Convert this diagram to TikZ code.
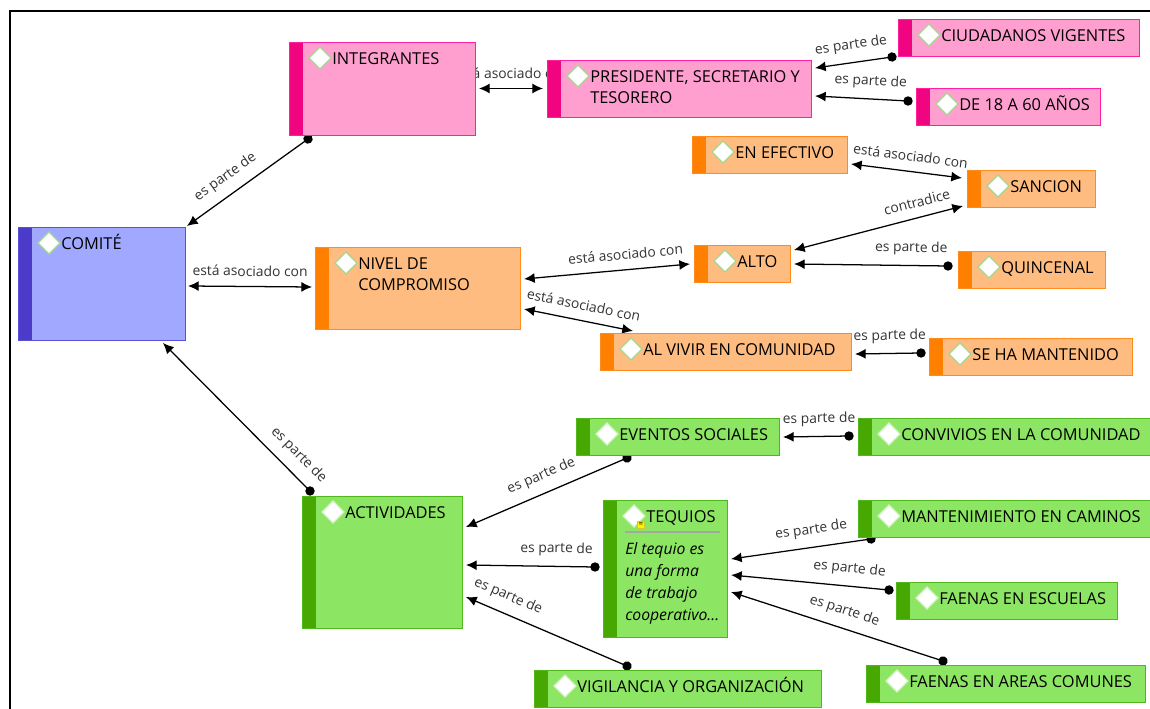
\documentclass[tikz,border=0pt]{standalone}
\usepackage{fontspec}
\setmainfont{Open Sans}
\usetikzlibrary{positioning}
\usetikzlibrary{arrows.meta}
\usetikzlibrary{backgrounds}

\definecolor{pinkfill}{HTML}{FF9FCF}
\definecolor{pinkline}{HTML}{FF1F9F}
\definecolor{pinkbar}{HTML}{F0047F}
\definecolor{orangefill}{HTML}{FFBC80}
\definecolor{orangeline}{HTML}{FF8B1F}
\definecolor{orangebar}{HTML}{FF7F00}
\definecolor{greenfill}{HTML}{8CE563}
\definecolor{greenline}{HTML}{50B81C}
\definecolor{greenbar}{HTML}{46A800}
\definecolor{bluefill}{HTML}{A0A8FF}
\definecolor{blueline}{HTML}{5A50D8}
\definecolor{bluebar}{HTML}{4A3BC8}
\definecolor{diamondline}{HTML}{A5D68F}
\definecolor{diamondpale}{HTML}{D4F2C4}
\definecolor{labelgrey}{HTML}{333333}

\tikzset{
  topic/.style n args={4}{draw=#2, line width=.7pt, fill=#1, rectangle, outer sep=0pt, inner sep=0pt,
    path picture={
      \fill[#3] (path picture bounding box.north west) rectangle ([xshift=10.5pt]path picture bounding box.south west);
      \draw[#4, line width=1pt, fill=white] ([shift={(31,-5)}]path picture bounding box.north west) -- ++(11,-11) -- ++(-11,-11) -- ++(-11,11) -- cycle;
    }},
  pinktopic/.style={topic={pinkfill}{pinkline}{pinkbar}{diamondline}},
  orangetopic/.style={topic={orangefill}{orangeline}{orangebar}{diamondline}},
  greentopic/.style={topic={greenfill}{greenline}{greenbar}{diamondpale}},
  bluetopic/.style={topic={bluefill}{blueline}{bluebar}{diamondline}},
  short/.style={minimum height=27.75pt},
  title/.style={anchor=north west, xshift=32.25pt, yshift=-5.1pt, inner sep=0pt, align=left, text=black,
    font=\fontsize{12.3pt}{15.75pt}\selectfont, execute at begin node={\rule{0pt}{11.6pt}}},
  twolines/.style={title, yshift=-2.6pt},
  partof/.style={{Circle[length=7pt]}-{Latex[length=8pt,width=7.5pt]}, shorten <=-3.5pt, line width=.95pt},
  assoc/.style={{Latex[length=8pt,width=7.5pt]}-{Latex[length=8pt,width=7.5pt]}, line width=.95pt},
  rel/.style={sloped, above=4.6pt, inner sep=2.6pt, text=labelgrey, font=\fontsize{10.4pt}{11pt}\selectfont},
  frameline/.style={line width=1.9pt, black}
}

\begin{document}
\begin{tikzpicture}[x=.75pt,y=.75pt]
\useasboundingbox (0,0) rectangle (1150,-709);
\clip (0,0) rectangle (1150,-709);

\node[bluetopic, minimum width=125.25pt, minimum height=84.75pt, anchor=north west, label={[title]north west:COMITÉ}](comite) at (18,-227){};
\node[pinktopic, minimum width=139.5pt, minimum height=69.75pt, below right=-138.75pt and 203.25pt of comite.north west, label={[title]north west:INTEGRANTES}](integrantes){};
\node[orangetopic, minimum width=153.75pt, minimum height=61.5pt, below right=15pt and 222.75pt of comite.north west, label={[twolines]north west:NIVEL DE\\COMPROMISO}](nivel){};
\node[greentopic, minimum width=120pt, minimum height=99pt, below right=201.75pt and 213pt of comite.north west, label={[title]north west:ACTIVIDADES}](actividades){};

\node[pinktopic, minimum width=198pt, minimum height=42.75pt, below right=13.5pt and 193.5pt of integrantes.north west, label={[twolines]north west:{PRESIDENTE, SECRETARIO Y\\TESORERO}}](presidente){};
\node[pinktopic, short, minimum width=180.75pt, below right=-30.75pt and 263.25pt of presidente.north west, label={[title]north west:CIUDADANOS VIGENTES}](ciudadanos){};
\node[pinktopic, short, minimum width=138pt, below right=21pt and 276.75pt of presidente.north west, label={[title]north west:DE 18 A 60 AÑOS}](edad){};

\node[orangetopic, short, minimum width=72pt, below right=-1.5pt and 284.25pt of nivel.north west, label={[title]north west:ALTO}](alto){};
\node[orangetopic, short, minimum width=188.25pt, below right=64.5pt and 213.75pt of nivel.north west, label={[title]north west:AL VIVIR EN COMUNIDAD}](vivir){};
\node[orangetopic, short, minimum width=152.25pt, below right=3.75pt and 246.75pt of vivir.north west, label={[title]north west:SE HA MANTENIDO}](mantenido){};
\node[orangetopic, short, minimum width=96pt, below right=-56.25pt and 204.75pt of alto.north west, label={[title]north west:SANCION}](sancion){};
\node[orangetopic, short, minimum width=116.25pt, below right=-25.5pt and -206.25pt of sancion.north west, label={[title]north west:EN EFECTIVO}](efectivo){};
\node[orangetopic, short, minimum width=110.25pt, below right=4.5pt and 198pt of alto.north west, label={[title]north west:QUINCENAL}](quincenal){};

\node[greentopic, short, minimum width=152.25pt, below right=-58.5pt and 205.5pt of actividades.north west, label={[title]north west:EVENTOS SOCIALES}](eventos){};
\node[greentopic, minimum width=93pt, minimum height=102.75pt, below right=3pt and 225.75pt of actividades.north west, label={[title]north west:TEQUIOS}](tequios){};
\node[greentopic, short, minimum width=215.25pt, below right=130.5pt and 174pt of actividades.north west, label={[title]north west:VIGILANCIA Y ORGANIZACIÓN}](vigilancia){};
\node[greentopic, short, minimum width=222pt, below right=0pt and 211.5pt of eventos.north west, label={[title]north west:CONVIVIOS EN LA COMUNIDAD}](convivios){};
\node[greentopic, short, minimum width=222pt, below right=0pt and 191.25pt of tequios.north west, label={[title]north west:MANTENIMIENTO EN CAMINOS}](caminos){};
\node[greentopic, short, minimum width=165.75pt, below right=61.5pt and 219.75pt of tequios.north west, label={[title]north west:FAENAS EN ESCUELAS}](escuelas){};
\node[greentopic, short, minimum width=209.25pt, below right=123.75pt and 197.25pt of tequios.north west, label={[title]north west:FAENAS EN AREAS COMUNES}](areas){};

\node[below right=31.6pt and 16.5pt of tequios.north west, inner sep=0pt, align=left, font=\fontsize{11.8pt}{16.5pt}\selectfont\itshape](tequiosnote){El tequio es\\una forma\\de trabajo\\cooperativo...};
\node[below right=15.75pt and 25.5pt of tequios.north west, draw=yellow!80!black, fill=yellow, minimum size=5.5pt, inner sep=0pt, font=\fontsize{6pt}{6pt}\selectfont](tequiosicon){=};
\draw[black!35, line width=.8pt] ([shift={(22,-32)}]tequios.north west) -- ([shift={(117,-32)}]tequios.north west);

\begin{scope}[on background layer]
\coordinate (framebottom) at (10,-709);
\coordinate (frameright) at (1150,-11);
\draw[frameline] (framebottom) |- (frameright);

\draw[partof] ([shift={(19,-4)}]integrantes.south west) -- node[rel, pos=.6]{es parte de} ([shift={(2,1)}]comite.north east);
\draw[assoc] ([shift={(3,-2.5)}]comite.east) -- node[rel]{está asociado con} ([shift={(-3,1)}]nivel.west);
\draw[assoc] ([shift={(4,0)}]integrantes.east) -- node[rel]{está asociado con} ([shift={(-4,0)}]presidente.west);
\draw[partof] ([shift={(-6,-1)}]ciudadanos.south west) -- node[rel]{es parte de} ([shift={(4,-8)}]presidente.north east);
\draw[partof] ([shift={(-8,5.5)}]edad.west) -- node[rel, pos=.41]{es parte de} ([shift={(4,-7.5)}]presidente.east);
\draw[assoc] ([shift={(4,-9.5)}]efectivo.east) -- node[rel, pos=.52]{está asociado con} ([shift={(-5,10.5)}]sancion.west);
\draw[assoc] ([shift={(4,-5)}]alto.north east) -- node[rel, pos=.75]{contradice} ([shift={(-4,1)}]sancion.south west);
\draw[partof] ([shift={(-10,3.5)}]quincenal.west) -- node[rel, pos=.24]{es parte de} ([shift={(4,-.5)}]alto.east);
\draw[assoc] ([shift={(4,9)}]nivel.east) -- node[rel, pos=.62]{está asociado con} ([shift={(-4,-.5)}]alto.west);
\draw[assoc] ([shift={(4,20)}]nivel.south east) -- node[rel, pos=.52]{está asociado con} ([shift={(33,2)}]vivir.north west);
\draw[partof] ([shift={(-8,3.5)}]mantenido.west) -- node[rel, pos=.47]{es parte de} ([shift={(4,-2.5)}]vivir.east);
\draw[partof] ([shift={(8,5)}]actividades.north west) -- node[rel, pos=.16]{es parte de} ([shift={(-22,-3)}]comite.south east);
\draw[partof] ([shift={(51,-3)}]eventos.south west) -- node[rel, pos=.49]{es parte de} ([shift={(4,-31)}]actividades.north east);
\draw[partof] ([shift={(-8,1.5)}]tequios.west) -- node[rel, pos=.3]{es parte de} ([shift={(4,-3)}]actividades.east);
\draw[partof] ([shift={(93,4)}]vigilancia.north west) -- node[rel, pos=.78]{es parte de} ([shift={(4,31)}]actividades.south east);
\draw[partof] ([shift={(-9,.5)}]convivios.west) -- node[rel, pos=.45]{es parte de} ([shift={(4,-.5)}]eventos.east);
\draw[partof] ([shift={(13,-2)}]caminos.south west) -- node[rel, pos=.41]{es parte de} ([shift={(4,9.5)}]tequios.east);
\draw[partof] ([shift={(-7,10.5)}]escuelas.west) -- node[rel, pos=.26]{es parte de} ([shift={(4,-6.5)}]tequios.east);
\draw[partof] ([shift={(77,4)}]areas.north west) -- node[rel, pos=.49]{es parte de} ([shift={(4,-23.5)}]tequios.east);
\end{scope}
\end{tikzpicture}
\end{document}
